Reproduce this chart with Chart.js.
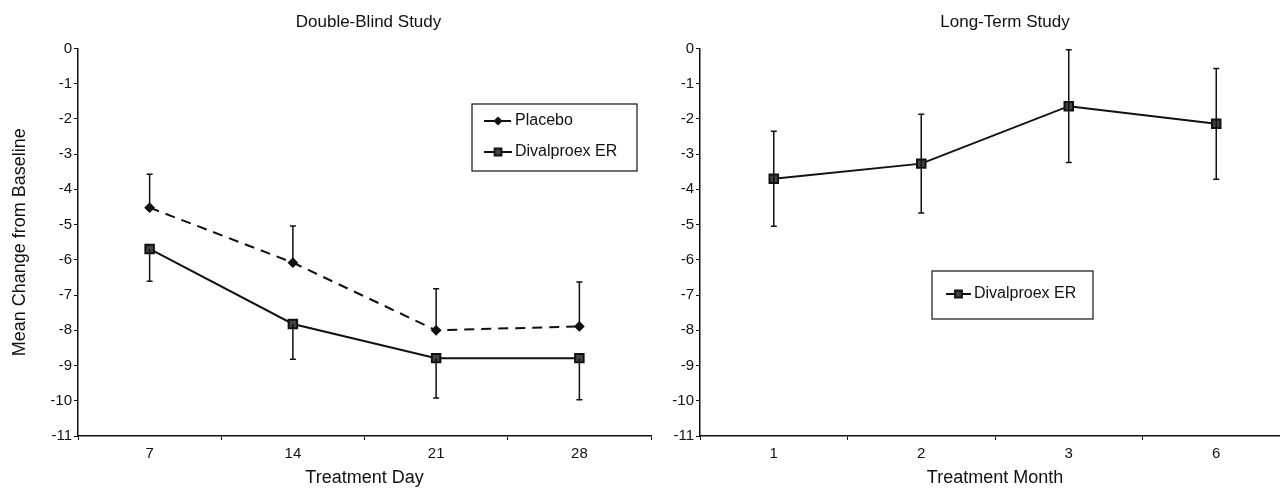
<!DOCTYPE html>
<html>
<head>
<meta charset="utf-8">
<script src="https://cdn.jsdelivr.net/npm/chart.js@4.4.0/dist/chart.umd.min.js"></script>
<style>
  html, body { margin: 0; padding: 0; background: #fff; }
  #wrap { position: relative; width: 1280px; height: 489px; overflow: hidden; background: #fff; }
  #left { position: absolute; left: 0; top: 0; }
  #right { position: absolute; left: 656px; top: 0; }
</style>
</head>
<body>
<div id="wrap">
  <canvas id="left" width="659" height="489"></canvas>
  <canvas id="right" width="642" height="489"></canvas>
</div>
<script>
// Double-blind study
const dayLabels = ['7', '14', '21', '28'];
const placeboMean = [-4.52, -6.08, -8.0, -7.89];
const placeboErrUp = [0.95, 1.04, 1.18, 1.26];
const divalDayMean = [-5.69, -7.82, -8.79, -8.79];
const divalDayErrDown = [0.92, 1.0, 1.13, 1.18];

// Long-term study
const monthLabels = ['1', '2', '3', '6'];
const divalMonthMean = [-3.7, -3.27, -1.64, -2.14];
const divalMonthErr = [1.35, 1.4, 1.6, 1.57];

const FONT = "'Liberation Sans', Arial, sans-serif";
const INK = '#111';

// error bars, drawn from the y scale
const errorBars = {
    id: 'errorBars',
    afterDatasetsDraw(chart) {
        const ctx = chart.ctx;
        const yScale = chart.scales.y;
        chart.data.datasets.forEach((ds, di) => {
            const meta = chart.getDatasetMeta(di);
            ctx.save();
            ctx.strokeStyle = INK;
            ctx.lineWidth = 1.5;
            meta.data.forEach((pt, i) => {
                const up = ds.errUp ? ds.errUp[i] : 0;
                const down = ds.errDown ? ds.errDown[i] : 0;
                const yTop = yScale.getPixelForValue(ds.data[i] + up);
                const yBot = yScale.getPixelForValue(ds.data[i] - down);
                ctx.beginPath();
                ctx.moveTo(pt.x, yTop);
                ctx.lineTo(pt.x, yBot);
                if (up) { ctx.moveTo(pt.x - 3, yTop); ctx.lineTo(pt.x + 3, yTop); }
                if (down) { ctx.moveTo(pt.x - 3, yBot); ctx.lineTo(pt.x + 3, yBot); }
                ctx.stroke();
            });
            ctx.restore();
        });
    }
};

// boxed legend placed inside the plot
const boxLegend = {
    id: 'boxLegend',
    afterDraw(chart, args, opts) {
        const ctx = chart.ctx;
        ctx.save();
        ctx.strokeStyle = INK;
        ctx.lineWidth = 1.2;
        ctx.fillStyle = '#fff';
        ctx.fillRect(opts.x, opts.y, opts.w, opts.h);
        ctx.strokeRect(opts.x, opts.y, opts.w, opts.h);
        chart.data.datasets.forEach((ds, i) => {
            const rowY = opts.y + opts.first + i * opts.step;
            ctx.beginPath();
            ctx.setLineDash(ds.borderDash || []);
            ctx.lineWidth = 2;
            ctx.moveTo(opts.x + opts.sampleLeft, rowY);
            ctx.lineTo(opts.x + opts.sampleLeft + opts.sampleWidth, rowY);
            ctx.stroke();
            ctx.setLineDash([]);
            ctx.fillStyle = ds.pointBackgroundColor;
            Chart.helpers.drawPoint(ctx, {
                pointStyle: ds.pointStyle,
                radius: ds.pointRadius * 0.8,
                rotation: 0,
                borderWidth: 1
            }, opts.x + opts.sampleLeft + opts.sampleWidth / 2, rowY);
            ctx.fillStyle = INK;
            ctx.font = '16px ' + FONT;
            ctx.textBaseline = 'middle';
            ctx.fillText(ds.label, opts.x + opts.sampleLeft + opts.sampleWidth + 3, rowY);
        });
        ctx.restore();
    }
};

// move the title sideways
const titleShift = {
    id: 'titleShift',
    afterLayout(chart, args, opts) {
        if (chart.titleBlock && opts.dx) {
            chart.titleBlock.left += opts.dx;
            chart.titleBlock.right += opts.dx;
        }
    }
};

function makeOptions(cfg) {
    return {
        responsive: false,
        animation: false,
        layout: { padding: { right: cfg.padRight } },
        plugins: {
            legend: { display: false },
            tooltip: { enabled: false },
            title: {
                display: true,
                text: cfg.title,
                fullSize: false,
                color: INK,
                font: { family: FONT, size: 17, weight: 'normal' },
                padding: { top: 12, bottom: 16 }
            },
            boxLegend: cfg.legend,
            titleShift: { dx: cfg.titleDx || 0 }
        },
        scales: {
            x: {
                offset: true,
                grid: { offset: true, drawOnChartArea: false, drawTicks: true, tickLength: 4, color: INK, lineWidth: 1 },
                border: { color: INK, width: 1.5 },
                ticks: { color: INK, padding: 5, font: { family: FONT, size: 15 } },
                title: {
                    display: true,
                    text: cfg.xTitle,
                    color: INK,
                    font: { family: FONT, size: 18 },
                    padding: { top: 0, bottom: 0 }
                },
                afterFit(scale) { scale.height = 53; }
            },
            y: {
                min: -11,
                max: 0,
                grid: { drawOnChartArea: false, drawTicks: true, tickLength: 4, color: INK, lineWidth: 1 },
                border: { color: INK, width: 1.5 },
                ticks: { stepSize: 1, color: INK, padding: 2, font: { family: FONT, size: 15 } },
                title: {
                    display: !!cfg.yTitle,
                    text: cfg.yTitle || '',
                    color: INK,
                    font: { family: FONT, size: 18 },
                    padding: { top: 9, bottom: 0 }
                },
                afterFit(scale) { scale.width = cfg.yWidth; }
            }
        }
    };
}

new Chart(document.getElementById('left'), {
    type: 'line',
    data: {
        labels: dayLabels,
        datasets: [{
            label: 'Placebo',
            data: placeboMean,
            errUp: placeboErrUp,
            borderColor: INK,
            borderWidth: 2,
            borderDash: [10, 7],
            pointStyle: 'rectRot',
            pointRadius: 4,
            pointBackgroundColor: INK,
            pointBorderColor: INK,
            tension: 0
        }, {
            label: 'Divalproex ER',
            data: divalDayMean,
            errDown: divalDayErrDown,
            borderColor: INK,
            borderWidth: 2,
            pointStyle: 'rect',
            pointRadius: 6,
            pointBackgroundColor: '#444',
            pointBorderColor: INK,
            tension: 0
        }]
    },
    options: makeOptions({
        title: 'Double-Blind Study',
        xTitle: 'Treatment Day',
        yTitle: 'Mean Change from Baseline',
        yWidth: 78,
        padRight: 1,
        titleDx: 4,
        legend: { x: 472, y: 104, w: 165, h: 67, first: 17, step: 31, sampleLeft: 12, sampleWidth: 28 }
    }),
    plugins: [errorBars, boxLegend, titleShift]
});

new Chart(document.getElementById('right'), {
    type: 'line',
    data: {
        labels: monthLabels,
        datasets: [{
            label: 'Divalproex ER',
            data: divalMonthMean,
            errUp: divalMonthErr,
            errDown: divalMonthErr,
            borderColor: INK,
            borderWidth: 2,
            pointStyle: 'rect',
            pointRadius: 6,
            pointBackgroundColor: '#444',
            pointBorderColor: INK,
            tension: 0
        }]
    },
    options: makeOptions({
        title: 'Long-Term Study',
        xTitle: 'Treatment Month',
        yWidth: 44,
        padRight: 0,
        titleDx: 10,
        legend: { x: 276, y: 271, w: 161, h: 48, first: 23, step: 0, sampleLeft: 14, sampleWidth: 25 }
    }),
    plugins: [errorBars, boxLegend, titleShift]
});
</script>
</body>
</html>
